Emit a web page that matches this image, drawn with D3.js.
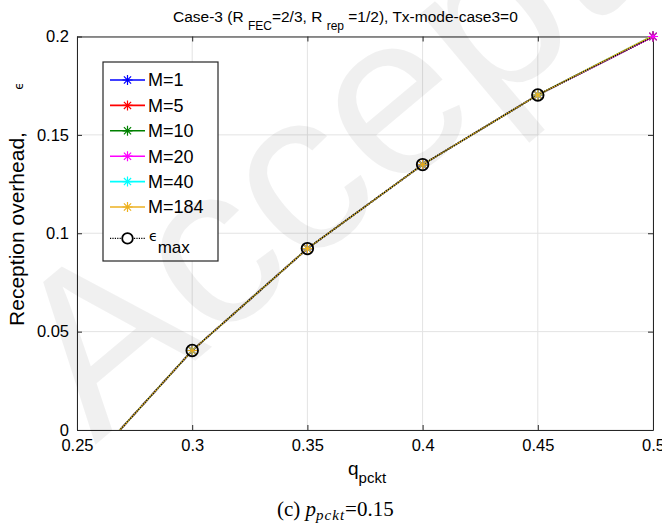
<!DOCTYPE html>
<html>
<head>
<meta charset="utf-8">
<script src="https://cdn.jsdelivr.net/npm/d3@7"></script>
<style>
body { margin: 0; background: #fff; }
text { font-family: "Liberation Sans", Arial, sans-serif; fill: #000; }
.narrow { font-family: "Liberation Sans Narrow", "Liberation Sans", sans-serif; }
</style>
</head>
<body>
<div id="chart"></div>
<script>
// Data

var qValues = [0.25, 0.3, 0.35, 0.4, 0.45, 0.5];

var seriesNames = ["M=1", "M=5", "M=10", "M=20", "M=40", "M=184"];
var seriesColors = ["#0000ff", "#ff0000", "#008000", "#ff00ff", "#00ffff", "#edb120"];

var epsM1   = [-0.024, 0.0404, 0.0922, 0.1349, 0.1703, 0.2];
var epsM5   = [-0.024, 0.0404, 0.0922, 0.1349, 0.1703, 0.2];
var epsM10  = [-0.024, 0.0404, 0.0922, 0.1349, 0.1703, 0.2];
var epsM20  = [-0.024, 0.0404, 0.0922, 0.1349, 0.1703, 0.2];
var epsM40  = [-0.024, 0.0404, 0.0922, 0.1349, 0.1703, 0.2004];
var epsM184 = [-0.024, 0.0404, 0.0922, 0.1349, 0.1703, 0.2004];
var seriesValues = [epsM1, epsM5, epsM10, epsM20, epsM40, epsM184];

var epsMax = [-0.024, 0.0404, 0.0922, 0.1349, 0.1703, 0.2];
var epsMaxMarkerQ = [0.3, 0.35, 0.4, 0.45];

var xTicks = [0.25, 0.3, 0.35, 0.4, 0.45, 0.5];
var yTicks = [0, 0.05, 0.1, 0.15, 0.2];

var margin = {top: 36.5, right: 9, bottom: 99, left: 77};
var width = 662 - margin.left - margin.right;
var height = 529 - margin.top - margin.bottom;

var svg = d3.select("#chart").append("svg")
    .attr("width", 662)
    .attr("height", 529);

svg.append("rect").attr("width", 662).attr("height", 529).attr("fill", "#fff");

var x = d3.scaleLinear().domain([0.25, 0.5]).range([0, width]);
var y = d3.scaleLinear().domain([0, 0.2]).range([height, 0]);

svg.append("defs").append("clipPath")
    .attr("id", "clip")
    .append("rect")
    .attr("width", width)
    .attr("height", height);

var focus = svg.append("g")
    .attr("transform", "translate(" + margin.left + "," + margin.top + ")");

// grid
focus.append("g").selectAll("line")
    .data(xTicks)
    .enter().append("line")
    .attr("x1", function(d) { return x(d); })
    .attr("x2", function(d) { return x(d); })
    .attr("y1", 0)
    .attr("y2", height)
    .attr("stroke", "#e3e3e3");

focus.append("g").selectAll("line")
    .data(yTicks)
    .enter().append("line")
    .attr("x1", 0)
    .attr("x2", width)
    .attr("y1", function(d) { return y(d); })
    .attr("y2", function(d) { return y(d); })
    .attr("stroke", "#e3e3e3");

// axes (ticks inside, box on)
var xAxis = d3.axisBottom(x).tickValues(xTicks).tickSizeInner(-5).tickSizeOuter(0).tickPadding(9)
    .tickFormat(d3.format("~g"));
var yAxis = d3.axisLeft(y).tickValues(yTicks).tickSizeInner(-5).tickSizeOuter(0).tickPadding(8)
    .tickFormat(d3.format("~g"));
var xTop = d3.axisTop(x).tickValues(xTicks).tickSizeInner(-5).tickSizeOuter(0).tickFormat("");
var yRight = d3.axisRight(y).tickValues(yTicks).tickSizeInner(-5).tickSizeOuter(0).tickFormat("");

function styleAxis(g) {
  g.select(".domain").attr("stroke", "#262626");
  g.selectAll(".tick line").attr("stroke", "#262626");
  g.selectAll(".tick text").attr("class", "narrow").style("font-size", "16.5px").attr("fill", "#000");
}

focus.append("g").attr("transform", "translate(0," + height + ")").call(xAxis).call(styleAxis);
focus.append("g").call(yAxis).call(styleAxis);
focus.append("g").call(xTop).call(styleAxis);
focus.append("g").attr("transform", "translate(" + width + ",0)").call(yRight).call(styleAxis);

// series
var line = d3.line()
    .x(function(d) { return x(d.q); })
    .y(function(d) { return y(d.v); });

var starPath = "M0,-5V5M-5,0H5M-3.6,-3.6L3.6,3.6M-3.6,3.6L3.6,-3.6";

var plot = focus.append("g").attr("clip-path", "url(#clip)");
var markers = focus.append("g");

seriesValues.forEach(function(vals, i) {
  var pts = qValues.map(function(q, j) { return {q: q, v: vals[j]}; });
  plot.append("path")
      .datum(pts)
      .attr("d", line)
      .attr("fill", "none")
      .attr("stroke", seriesColors[i])
      .attr("stroke-width", 1.6);
  markers.append("g").selectAll("path")
      .data(pts.filter(function(d) { return d.v >= 0 && d.v <= 0.2; }))
      .enter().append("path")
      .attr("d", starPath)
      .attr("transform", function(d) { return "translate(" + x(d.q) + "," + y(d.v) + ")"; })
      .attr("fill", "none")
      .attr("stroke", seriesColors[i])
      .attr("stroke-width", 1.2);
});

var maxPts = qValues.map(function(q, j) { return {q: q, v: epsMax[j]}; });
plot.append("path")
    .datum(maxPts)
    .attr("d", line)
    .attr("fill", "none")
    .attr("stroke", "#000")
    .attr("stroke-width", 1.2)
    .attr("stroke-dasharray", "1.2,1.2");

focus.append("g").selectAll("circle")
    .data(maxPts.filter(function(d) { return epsMaxMarkerQ.indexOf(d.q) >= 0; }))
    .enter().append("circle")
    .attr("cx", function(d) { return x(d.q); })
    .attr("cy", function(d) { return y(d.v); })
    .attr("r", 5.8)
    .attr("fill", "none")
    .attr("stroke", "#000")
    .attr("stroke-width", 1.8);

// legend
var legend = svg.append("g").attr("transform", "translate(103,62)");
legend.append("rect")
    .attr("width", 115)
    .attr("height", 199)
    .attr("fill", "#fff")
    .attr("stroke", "#262626")
    .attr("stroke-width", 1.2);

var rowY = d3.scaleLinear().domain([0, 1]).range([18, 43.4]);

seriesNames.forEach(function(name, i) {
  var row = legend.append("g").attr("transform", "translate(0," + rowY(i) + ")");
  row.append("line").attr("x1", 7).attr("x2", 42).attr("stroke", seriesColors[i]).attr("stroke-width", 1.6);
  row.append("path").attr("d", starPath).attr("transform", "translate(24.5,0)")
      .attr("fill", "none").attr("stroke", seriesColors[i]).attr("stroke-width", 1.2);
  row.append("text").attr("x", 45).attr("dy", "0.36em").style("font-size", "18px").text(name);
});

var maxRow = legend.append("g").attr("transform", "translate(0," + (rowY(6) + 6) + ")");
maxRow.append("line").attr("x1", 7).attr("x2", 42).attr("stroke", "#000")
    .attr("stroke-width", 1.2).attr("stroke-dasharray", "1.2,1.2");
maxRow.append("circle").attr("cx", 24.5).attr("r", 5.3).attr("fill", "#fff")
    .attr("stroke", "#000").attr("stroke-width", 1.8);
var maxText = maxRow.append("text").attr("x", 46).attr("y", 3);
maxText.append("tspan").style("font-family", "'DejaVu Sans', sans-serif").style("font-size", "14px").text("\u03f5");
maxText.append("tspan").attr("class", "narrow").attr("dy", 12).style("font-size", "17px").text("max");

// title
var title = svg.append("text").attr("x", 173).attr("y", 22).style("font-size", "15.5px");
title.append("tspan").text("Case-3 (R ");
title.append("tspan").attr("dy", 8).style("font-size", "12px").text("FEC");
title.append("tspan").attr("dy", -8).text("=2/3, R ");
title.append("tspan").attr("dy", 8).style("font-size", "12px").text(" rep");
title.append("tspan").attr("dy", -8).text(" =1/2), Tx-mode-case3=0");

// y label
svg.append("text")
    .attr("transform", "translate(24,229) rotate(-90)")
    .attr("text-anchor", "middle")
    .style("font-size", "21px")
    .text("Reception overhead,");
svg.append("text")
    .attr("transform", "translate(23,86) rotate(-90)")
    .attr("text-anchor", "middle")
    .style("font-family", "'DejaVu Sans', sans-serif")
    .style("font-size", "12px")
    .text("\u03f5");

// x label
var xl = svg.append("text").attr("class", "narrow").attr("x", 348).attr("y", 475).style("font-size", "19px");
xl.append("tspan").text("q");
xl.append("tspan").attr("dy", 8).style("font-size", "15px").text("pckt");

// caption
var cap = svg.append("text").attr("x", 277).attr("y", 516)
    .style("font-family", "'Liberation Serif', 'Times New Roman', serif").style("font-size", "21px");
cap.append("tspan").text("(c) ");
cap.append("tspan").style("font-style", "italic").text("p");
cap.append("tspan").style("font-style", "italic").style("font-size", "15px")
    .style("letter-spacing", "1px").attr("dy", 4).text("pckt");
cap.append("tspan").attr("dy", -4).text("=0.15");

// watermark
svg.append("text")
    .attr("transform", "translate(95,445) rotate(-40)")
    .style("font-size", "230px")
    .style("fill", "#000")
    .style("fill-opacity", 0.06)
    .text("Accepted");
</script>
</body>
</html>
